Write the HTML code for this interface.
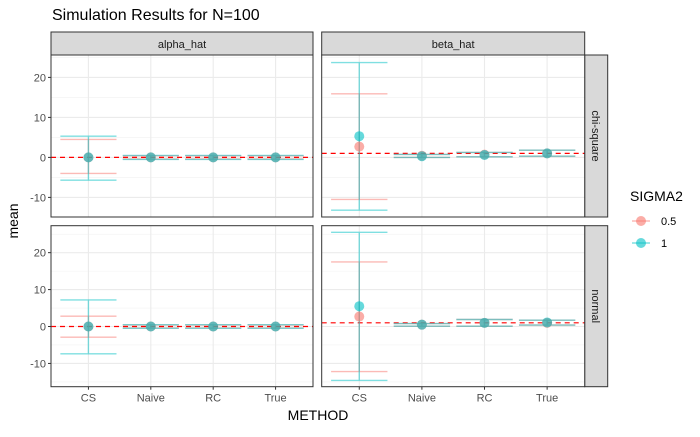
<!DOCTYPE html>
<html><head><meta charset="utf-8"><style>
body{margin:0;background:#fff;font-family:"Liberation Sans",sans-serif;}
svg text{font-family:"Liberation Sans",sans-serif;}
</style></head><body>
<svg id="chart" width="700" height="432"></svg>
<script>
const methods=["CS","Naive","RC","True"];
const params=["alpha_hat","beta_hat"];
const dists=["chi-square","normal"];
const sigmas=["0.5","1"];
// [dist][param][sigma] -> per method mean / lo / hi
const means={
 "chi-square":{alpha_hat:{"0.5":[0,0,0,0],"1":[0,0,0,0]},beta_hat:{"0.5":[2.7,0.4,0.7,1.0],"1":[5.3,0.3,0.6,1.0]}},
 "normal":{alpha_hat:{"0.5":[0,0,0,0],"1":[0,0,0,0]},beta_hat:{"0.5":[2.7,0.5,1.0,1.0],"1":[5.5,0.5,1.0,1.1]}}
};
const lows={
 "chi-square":{alpha_hat:{"0.5":[-4,-0.4,-0.4,-0.4],"1":[-5.7,-0.5,-0.5,-0.5]},beta_hat:{"0.5":[-10.5,0,0.15,0.3],"1":[-13.2,0,0.15,0.3]}},
 "normal":{alpha_hat:{"0.5":[-2.9,-0.4,-0.4,-0.4],"1":[-7.4,-0.5,-0.5,-0.5]},beta_hat:{"0.5":[-12.2,0.1,0.1,0.4],"1":[-14.6,0.1,0.1,0.4]}}
};
const highs={
 "chi-square":{alpha_hat:{"0.5":[4.5,0.4,0.4,0.4],"1":[5.3,0.5,0.5,0.5]},beta_hat:{"0.5":[15.9,0.75,1.25,1.8],"1":[23.7,0.75,1.25,1.8]}},
 "normal":{alpha_hat:{"0.5":[2.8,0.4,0.4,0.4],"1":[7.2,0.5,0.5,0.5]},beta_hat:{"0.5":[17.5,0.8,1.9,1.7],"1":[25.5,0.8,1.9,1.7]}}
};
const refLines={alpha_hat:0,beta_hat:1};
const yTicks=[-10,0,10,20];
const rowDomains={"chi-square":[-14.9,25.6],"normal":[-16.3,27.3]};

const NS="http://www.w3.org/2000/svg";
const svg=document.getElementById("chart");
function el(tag,attrs,parent){const e=document.createElementNS(NS,tag);for(const k in attrs)e.setAttribute(k,attrs[k]);(parent||svg).appendChild(e);return e;}
const colX=[[51,313],[321.7,584.7]];
const rowY=[[55,217],[225.7,386.7]];
const colors={"0.5":"#F8766D","1":"#00BFC4"};

const title=el("text",{x:52,y:20,"font-size":16,fill:"#000"});title.textContent="Simulation Results for N=100";



params.forEach((p,ci)=>{
 const [x0,x1]=colX[ci];
 const s=el("rect",{x:x0,y:32,width:x1-x0,height:23,fill:"#d9d9d9",stroke:"#333","stroke-width":1});
 
 
 const t=el("text",{x:(x0+x1)/2,y:48,"font-size":11,"text-anchor":"middle",fill:"#1a1a1a"});t.textContent=p;
 
 
});
dists.forEach((d,ri)=>{
 const [y0,y1]=rowY[ri];
 const s=el("rect",{x:584.7,y:y0,width:23,height:y1-y0,fill:"#d9d9d9",stroke:"#333","stroke-width":1});
 
 
 const t=el("text",{x:592,y:(y0+y1)/2,"font-size":11,"text-anchor":"middle",fill:"#1a1a1a",transform:`rotate(90 592 ${(y0+y1)/2})`});t.textContent=d;
 
 
});

dists.forEach((d,ri)=>{
 const [y0,y1]=rowY[ri];const dom=rowDomains[d];
 const Y=v=>y1-(v-dom[0])/(dom[1]-dom[0])*(y1-y0);
 // y tick labels
 yTicks.forEach(v=>{
  const t=el("text",{x:46,y:Y(v)+4,"font-size":11,"text-anchor":"end",fill:"#4d4d4d"});t.textContent=v;
  
  
  el("line",{x1:48,x2:51,y1:Y(v),y2:Y(v),stroke:"#333"});
 });
 params.forEach((p,ci)=>{
  const [x0,x1]=colX[ci];
  const step=(x1-x0)/(methods.length-1+1.2);
  const X=i=>x0+step*(0.6+i);
  const g=el("g",{});
  
  
  el("rect",{x:x0,y:y0,width:x1-x0,height:y1-y0,fill:"#fff"},g);
  for(let v=-15;v<=25;v+=10){if(Y(v)>y0&&Y(v)<y1)el("line",{x1:x0,x2:x1,y1:Y(v),y2:Y(v),stroke:"#f2f2f2","stroke-width":0.6},g);}
  yTicks.forEach(v=>el("line",{x1:x0,x2:x1,y1:Y(v),y2:Y(v),stroke:"#ebebeb","stroke-width":1.1},g));
  methods.forEach((m,i)=>el("line",{x1:X(i),x2:X(i),y1:y0,y2:y1,stroke:"#ebebeb","stroke-width":1.1},g));
  const ref=el("line",{x1:x0,x2:x1,y1:Y(refLines[p]),y2:Y(refLines[p]),stroke:"#ff0000","stroke-width":1.2,"stroke-dasharray":"5,4"},g);
  
  
  sigmas.forEach(s=>{
   methods.forEach((m,i)=>{
    const lo=Y(lows[d][p][s][i]),hi=Y(highs[d][p][s][i]),w=step*0.45;
    const eb=el("path",{d:`M${X(i)-w},${hi}H${X(i)+w}M${X(i)},${hi}V${lo}M${X(i)-w},${lo}H${X(i)+w}`,stroke:colors[s],"stroke-opacity":0.5,"stroke-width":1.4,fill:"none"},g);
    
    
   });
  });
  sigmas.forEach(s=>{
   methods.forEach((m,i)=>{
    const c=el("circle",{cx:X(i),cy:Y(means[d][p][s][i]),r:5,fill:colors[s],"fill-opacity":0.6},g);
    
    
   });
  });
  el("rect",{x:x0,y:y0,width:x1-x0,height:y1-y0,fill:"none",stroke:"#333","stroke-width":1},g);
  if(ri===1){
   methods.forEach((m,i)=>{
    el("line",{x1:X(i),x2:X(i),y1:y1,y2:y1+3,stroke:"#333"});
    const t=el("text",{x:X(i),y:y1+15,"font-size":11,"text-anchor":"middle",fill:"#4d4d4d"});t.textContent=m;
    
    
   });
  }
 });
});
const xt=el("text",{x:318,y:420,"font-size":14,"text-anchor":"middle",fill:"#000"});xt.textContent="METHOD";


const yt=el("text",{x:18,y:221,"font-size":14,"text-anchor":"middle",fill:"#000",transform:"rotate(-90 18 221)"});yt.textContent="mean";


const lt=el("text",{x:630,y:201,"font-size":14,fill:"#000"});lt.textContent="SIGMA2";


sigmas.forEach((s,i)=>{
 const cy=221+i*22;
 const g=el("g",{});
 
 
 el("line",{x1:632,x2:650,y1:cy,y2:cy,stroke:colors[s],"stroke-opacity":0.5,"stroke-width":1.4},g);
 el("circle",{cx:641,cy:cy,r:5,fill:colors[s],"fill-opacity":0.6},g);
 const t=el("text",{x:661,y:cy+4,"font-size":11,fill:"#000"},g);t.textContent=s;
});
</script>
</body></html>
